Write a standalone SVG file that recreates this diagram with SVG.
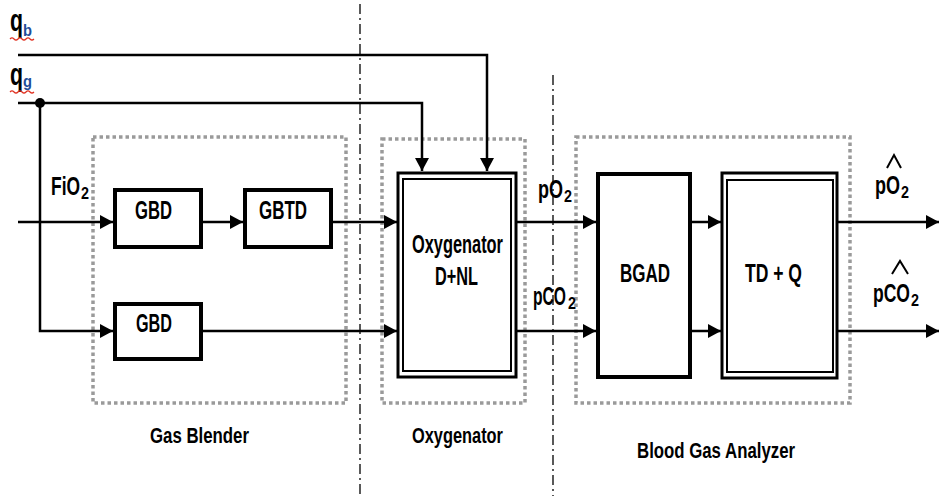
<svg xmlns="http://www.w3.org/2000/svg" width="939" height="496" viewBox="0 0 939 496">
<defs>
<marker id="ah" markerUnits="userSpaceOnUse" markerWidth="14" markerHeight="14" refX="13" refY="7" orient="auto">
<path d="M0,0 L13,7 L0,14 Z" fill="#000"/>
</marker>
<style>
.t{font-family:"Liberation Sans",Arial,sans-serif;font-size:25px;fill:#000;font-weight:bold}
.s{font-family:"Liberation Sans",Arial,sans-serif;font-size:17px;fill:#000;font-weight:bold}
.lb{font-family:"Liberation Sans",Arial,sans-serif;font-size:22px;font-weight:bold;fill:#000}
.q{font-family:"Liberation Sans",Arial,sans-serif;font-size:32px;font-weight:bold;fill:#000}
.qs{font-family:"Liberation Sans",Arial,sans-serif;font-size:17px;font-weight:bold;fill:#1f4e9a}
.w{fill:none;stroke:#000;stroke-width:2.5}
.box{fill:#fff;stroke:#000;stroke-width:4}
.ob{fill:#fff;stroke:#000;stroke-width:3}
.ib{fill:none;stroke:#000;stroke-width:2}
.dot{fill:none;stroke:#9a9a9a;stroke-width:3.5;stroke-dasharray:3.5 3}
.dd{fill:none;stroke:#000;stroke-width:1.3;stroke-dasharray:10 4 2 4}
.sq{fill:none;stroke:#e03020;stroke-width:1.2}
</style>
</defs>
<rect width="939" height="496" fill="#fff"/>

<g id="regions">
<rect class="dot" x="93" y="137" width="253" height="266"/>
<rect class="dot" x="382" y="139" width="143" height="264"/>
<rect class="dot" x="576" y="137" width="274" height="266"/>
<line class="dd" x1="360" y1="4" x2="360" y2="496"/>
<line class="dd" x1="553" y1="75" x2="553" y2="496"/>
</g>

<g id="connectors">
<polyline class="w" points="18,55 487,55 487,171" marker-end="url(#ah)"/>
<polyline class="w" points="18,103 422,103 422,171" marker-end="url(#ah)"/>
<circle cx="40" cy="103" r="5" fill="#000"/>
<polyline class="w" points="40,103 40,331 113,331" marker-end="url(#ah)"/>
<line class="w" x1="18" y1="222" x2="113" y2="222" marker-end="url(#ah)"/>
<line class="w" x1="203" y1="222" x2="243" y2="222" marker-end="url(#ah)"/>
<line class="w" x1="333" y1="222" x2="397" y2="222" marker-end="url(#ah)"/>
<line class="w" x1="203" y1="331" x2="397" y2="331" marker-end="url(#ah)"/>
<line class="w" x1="517" y1="222" x2="596" y2="222" marker-end="url(#ah)"/>
<line class="w" x1="517" y1="331" x2="596" y2="331" marker-end="url(#ah)"/>
<line class="w" x1="692" y1="222" x2="721" y2="222" marker-end="url(#ah)"/>
<line class="w" x1="692" y1="331" x2="721" y2="331" marker-end="url(#ah)"/>
<line class="w" x1="838" y1="222" x2="939" y2="222" marker-end="url(#ah)"/>
<line class="w" x1="838" y1="331" x2="939" y2="331" marker-end="url(#ah)"/>
</g>

<g id="gbd1">
<rect class="box" x="115" y="190" width="86" height="57"/>
<text class="t" x="135" y="219" textLength="37" lengthAdjust="spacingAndGlyphs">GBD</text>
</g>
<g id="gbtd">
<rect class="box" x="245" y="190" width="86" height="57"/>
<text class="t" x="259" y="219" textLength="48" lengthAdjust="spacingAndGlyphs">GBTD</text>
</g>
<g id="gbd2">
<rect class="box" x="115" y="304" width="86" height="55"/>
<text class="t" x="136" y="332" textLength="36" lengthAdjust="spacingAndGlyphs">GBD</text>
</g>
<g id="oxygenator">
<rect class="ob" x="398" y="173" width="118" height="204"/>
<rect class="ib" x="403" y="179" width="108" height="192"/>
<text class="t" x="412" y="253" textLength="91" lengthAdjust="spacingAndGlyphs">Oxygenator</text>
<text class="t" x="435" y="285" textLength="43" lengthAdjust="spacingAndGlyphs">D+NL</text>
</g>
<g id="bgad">
<rect class="box" x="598" y="174" width="92" height="203"/>
<text class="t" x="620" y="282" textLength="50" lengthAdjust="spacingAndGlyphs">BGAD</text>
</g>
<g id="tdq">
<rect class="ob" x="722" y="173" width="115" height="205"/>
<rect class="ib" x="727" y="180" width="106" height="192"/>
<text class="t" x="745" y="282" textLength="57" lengthAdjust="spacingAndGlyphs">TD + Q</text>
</g>

<g id="labels">
<text class="q" x="10" y="31" textLength="13" lengthAdjust="spacingAndGlyphs">q</text>
<text class="qs" x="23" y="36" textLength="9" lengthAdjust="spacingAndGlyphs">b</text>
<path class="sq" d="M10,39 q2,-2 4,0 t4,0 t4,0 t4,0 t4,0 t4,0"/>
<text class="q" x="10" y="85" textLength="13" lengthAdjust="spacingAndGlyphs">q</text>
<text class="qs" x="23" y="87" textLength="9" lengthAdjust="spacingAndGlyphs">g</text>
<path class="sq" d="M10,92 q2,-2 4,0 t4,0 t4,0 t4,0 t4,0 t4,0"/>

<text class="t" x="51" y="195" textLength="29" lengthAdjust="spacingAndGlyphs">FiO</text>
<text class="s" x="81" y="199" textLength="8" lengthAdjust="spacingAndGlyphs">2</text>
<text class="t" x="538" y="198" textLength="25" lengthAdjust="spacingAndGlyphs">pO</text>
<text class="s" x="564" y="202" textLength="8" lengthAdjust="spacingAndGlyphs">2</text>
<text class="t" x="533" y="305" textLength="33" lengthAdjust="spacingAndGlyphs">pCO</text>
<text class="s" x="568" y="309" textLength="8" lengthAdjust="spacingAndGlyphs">2</text>
<text class="t" x="875" y="194" textLength="25" lengthAdjust="spacingAndGlyphs">pO</text>
<text class="s" x="901" y="198" textLength="8" lengthAdjust="spacingAndGlyphs">2</text>
<polyline points="887,168 894,155 901,168" fill="none" stroke="#000" stroke-width="2"/>
<text class="t" x="873" y="302" textLength="37" lengthAdjust="spacingAndGlyphs">pCO</text>
<text class="s" x="911" y="306" textLength="8" lengthAdjust="spacingAndGlyphs">2</text>
<polyline points="892,274 900,261 908,274" fill="none" stroke="#000" stroke-width="2"/>

<text class="lb" x="150" y="443" textLength="99" lengthAdjust="spacingAndGlyphs">Gas Blender</text>
<text class="lb" x="412" y="443" textLength="91" lengthAdjust="spacingAndGlyphs">Oxygenator</text>
<text class="lb" x="637" y="458" textLength="158" lengthAdjust="spacingAndGlyphs">Blood Gas Analyzer</text>
</g>
</svg>
